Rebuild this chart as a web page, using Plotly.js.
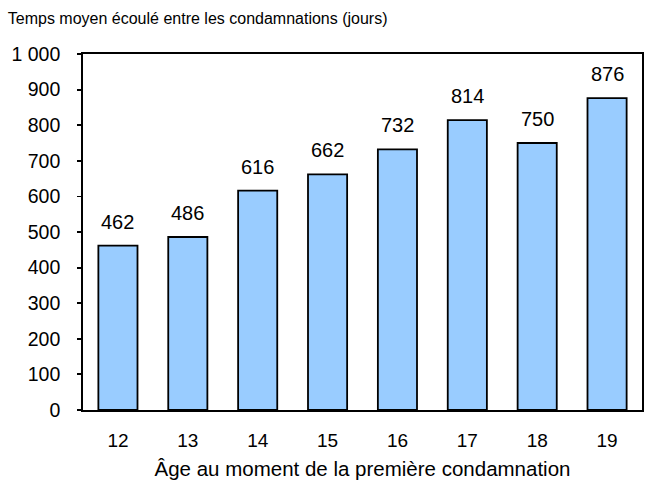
<!DOCTYPE html>
<html>
<head>
<meta charset="utf-8">
<script src="https://cdn.plot.ly/plotly-3.0.1.min.js"></script>
<style>html,body{margin:0;padding:0;background:#fff;}#chart{width:649px;height:496px;}</style>
</head>
<body>
<div id="chart"></div>
<script>
const ages = ['12','13','14','15','16','17','18','19'];
const days = [462, 486, 616, 662, 732, 814, 750, 876];
const yTicks = [0,100,200,300,400,500,600,700,800,900,1000];

const FONT = 'Liberation Sans, Arial, sans-serif';

const trace = {
  type: 'bar',
  x: ages,
  y: days,
  marker: {color: '#99CCFF', line: {color: '#000', width: 1.8}},
  hoverinfo: 'none'
};

// annotation x uses the category index on the category axis
const annotations = ages.map((a, i) => ({
  x: i, y: days[i], xref: 'x', yref: 'y',
  text: String(days[i]), showarrow: false,
  xanchor: 'center', yanchor: 'bottom', yshift: 11,
  font: {family: FONT, size: 20, color: '#000'}
}));

const layout = {
  width: 649, height: 496,
  margin: {l: 83, r: 7, t: 54, b: 86},
  paper_bgcolor: '#fff', plot_bgcolor: '#fff',
  separators: '. ',
  bargap: 0.44,
  showlegend: false,
  font: {family: FONT, size: 20, color: '#000'},
  title: {text: 'Temps moyen écoulé entre les condamnations (jours)', x: 0.012, xanchor: 'left', y: 0.963, yanchor: 'middle', font: {size: 16}},
  annotations: annotations,
  xaxis: {
    type: 'category',
    range: [-0.5, ages.length - 0.5],
    showline: true, linecolor: '#000', linewidth: 1.8, mirror: true,
    ticks: '', ticklabelstandoff: 12,
    showgrid: false, zeroline: false,
    tickfont: {size: 19},
    title: {text: 'Âge au moment de la première condamnation', font: {size: 20.5}, standoff: 12}
  },
  yaxis: {
    range: [0, 1000],
    tickvals: yTicks,
    tickformat: ',d',
    separatethousands: true,
    showline: true, linecolor: '#000', linewidth: 1.8, mirror: true,
    ticks: 'outside', ticklen: 4, tickwidth: 1.8, tickcolor: '#000',
    ticklabelstandoff: 13,
    showgrid: false, zeroline: false,
    tickfont: {size: 19.5}
  }
};

Plotly.newPlot('chart', [trace], layout, {displayModeBar: false, staticPlot: true});
</script>
</body>
</html>
